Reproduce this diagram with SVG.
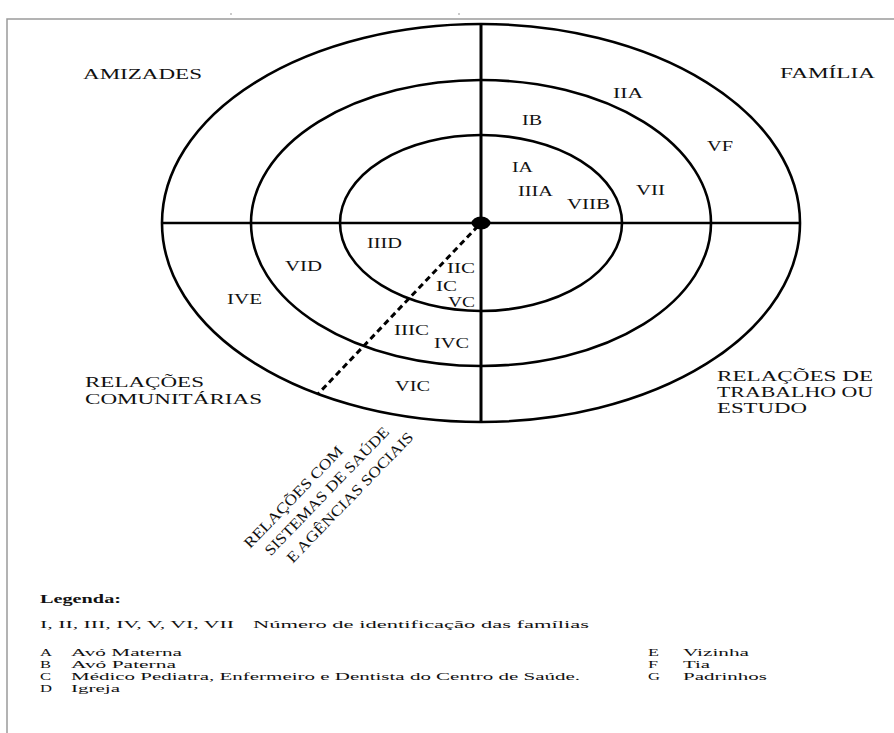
<svg xmlns="http://www.w3.org/2000/svg" width="894" height="733" viewBox="0 0 894 733">
<style>
.bg{fill:#fff}
.frame{fill:none;stroke:#9a9a9a;stroke-width:1.5}
.ring{fill:none;stroke:#000;stroke-width:2.6}
.axis{stroke:#000;stroke-width:2.4}
.dash{stroke:#000;stroke-width:3;stroke-dasharray:6 4;fill:none}
text{font-family:'Liberation Serif','Times New Roman',Tinos,'DejaVu Serif',serif;fill:#111}
.lbl{font-size:14px}
.rot{font-size:15px}
.leg{font-size:11px}
.legb{font-size:13px;font-weight:bold}
</style>
<rect class="bg" x="0" y="0" width="894" height="733"/>
<g id="frame">
<polyline class="frame" points="7,733 7,19 894,19"/>
<circle cx="231" cy="14" r="0.8" fill="#888"/>
<circle cx="459" cy="14" r="0.8" fill="#888"/>
</g>
<g id="rings">
<ellipse id="outer" class="ring" cx="481" cy="223" rx="319" ry="199"/>
<ellipse id="middle" class="ring" cx="481" cy="223" rx="230" ry="143"/>
<ellipse id="inner" class="ring" cx="481" cy="223" rx="141" ry="88"/>
</g>
<g id="connectors">
<line class="axis" x1="162" y1="223" x2="800" y2="223"/>
<line class="axis" x1="481" y1="24" x2="481" y2="422" style="stroke-width:3"/>
<line class="dash" x1="478" y1="226" x2="318" y2="394"/>
<ellipse cx="481" cy="223" rx="9.5" ry="6.5" fill="#000"/>
</g>
<g id="quadrants">
<text class="lbl" x="83" y="79" textLength="119" lengthAdjust="spacingAndGlyphs">AMIZADES</text>
<text class="lbl" x="780" y="78" textLength="95" lengthAdjust="spacingAndGlyphs">FAMÍLIA</text>
<text class="lbl" x="85" y="387" textLength="119" lengthAdjust="spacingAndGlyphs">RELAÇÕES</text>
<text class="lbl" x="85" y="404" textLength="177" lengthAdjust="spacingAndGlyphs">COMUNITÁRIAS</text>
<text class="lbl" x="717" y="381" textLength="156" lengthAdjust="spacingAndGlyphs">RELAÇÕES DE</text>
<text class="lbl" x="717" y="397" textLength="156" lengthAdjust="spacingAndGlyphs">TRABALHO OU</text>
<text class="lbl" x="717" y="413" textLength="90" lengthAdjust="spacingAndGlyphs">ESTUDO</text>
<text class="rot" transform="translate(250,549) rotate(-46)"><tspan x="0" y="0" textLength="135" lengthAdjust="spacingAndGlyphs">RELAÇÕES COM</tspan><tspan x="9" y="20" textLength="172" lengthAdjust="spacingAndGlyphs">SISTEMAS DE SAÚDE</tspan><tspan x="19" y="41" textLength="175" lengthAdjust="spacingAndGlyphs">E AGÊNCIAS SOCIAIS</tspan></text>
</g>
<g id="families">
<text class="lbl" x="613" y="98" textLength="30" lengthAdjust="spacingAndGlyphs">IIA</text>
<text class="lbl" x="522" y="125" textLength="20" lengthAdjust="spacingAndGlyphs">IB</text>
<text class="lbl" x="707" y="151" textLength="26" lengthAdjust="spacingAndGlyphs">VF</text>
<text class="lbl" x="512" y="172" textLength="21" lengthAdjust="spacingAndGlyphs">IA</text>
<text class="lbl" x="518" y="196" textLength="35" lengthAdjust="spacingAndGlyphs">IIIA</text>
<text class="lbl" x="636" y="195" textLength="29" lengthAdjust="spacingAndGlyphs">VII</text>
<text class="lbl" x="567" y="209" textLength="43" lengthAdjust="spacingAndGlyphs">VIIB</text>
<text class="lbl" x="367" y="248" textLength="35" lengthAdjust="spacingAndGlyphs">IIID</text>
<text class="lbl" x="285" y="271" textLength="37" lengthAdjust="spacingAndGlyphs">VID</text>
<text class="lbl" x="447" y="273" textLength="28" lengthAdjust="spacingAndGlyphs">IIC</text>
<text class="lbl" x="436" y="291" textLength="21" lengthAdjust="spacingAndGlyphs">IC</text>
<text class="lbl" x="227" y="304" textLength="35" lengthAdjust="spacingAndGlyphs">IVE</text>
<text class="lbl" x="448" y="307" textLength="27" lengthAdjust="spacingAndGlyphs">VC</text>
<text class="lbl" x="394" y="335" textLength="35" lengthAdjust="spacingAndGlyphs">IIIC</text>
<text class="lbl" x="434" y="348" textLength="35" lengthAdjust="spacingAndGlyphs">IVC</text>
<text class="lbl" x="395" y="391" textLength="35" lengthAdjust="spacingAndGlyphs">VIC</text>
</g>
<g id="legend">
<text class="legb" x="40" y="603" textLength="81" lengthAdjust="spacingAndGlyphs">Legenda:</text>
<text class="leg" x="40" y="628" textLength="194" lengthAdjust="spacingAndGlyphs">I, II, III, IV, V, VI, VII</text>
<text class="leg" x="253" y="628" textLength="336" lengthAdjust="spacingAndGlyphs">Número de identificação das famílias</text>
<text class="leg" x="40" y="656" textLength="12" lengthAdjust="spacingAndGlyphs">A</text>
<text class="leg" x="71" y="656" textLength="111" lengthAdjust="spacingAndGlyphs">Avó Materna</text>
<text class="leg" x="40" y="668" textLength="11" lengthAdjust="spacingAndGlyphs">B</text>
<text class="leg" x="71" y="668" textLength="105" lengthAdjust="spacingAndGlyphs">Avó Paterna</text>
<text class="leg" x="40" y="680" textLength="11" lengthAdjust="spacingAndGlyphs">C</text>
<text class="leg" x="71" y="680" textLength="509" lengthAdjust="spacingAndGlyphs">Médico Pediatra, Enfermeiro e Dentista do Centro de Saúde.</text>
<text class="leg" x="40" y="692" textLength="12" lengthAdjust="spacingAndGlyphs">D</text>
<text class="leg" x="71" y="692" textLength="49" lengthAdjust="spacingAndGlyphs">Igreja</text>
<text class="leg" x="648" y="656" textLength="11" lengthAdjust="spacingAndGlyphs">E</text>
<text class="leg" x="683" y="656" textLength="66" lengthAdjust="spacingAndGlyphs">Vizinha</text>
<text class="leg" x="648" y="668" textLength="10" lengthAdjust="spacingAndGlyphs">F</text>
<text class="leg" x="683" y="668" textLength="27" lengthAdjust="spacingAndGlyphs">Tia</text>
<text class="leg" x="648" y="680" textLength="12" lengthAdjust="spacingAndGlyphs">G</text>
<text class="leg" x="683" y="680" textLength="84" lengthAdjust="spacingAndGlyphs">Padrinhos</text>
</g>
</svg>
